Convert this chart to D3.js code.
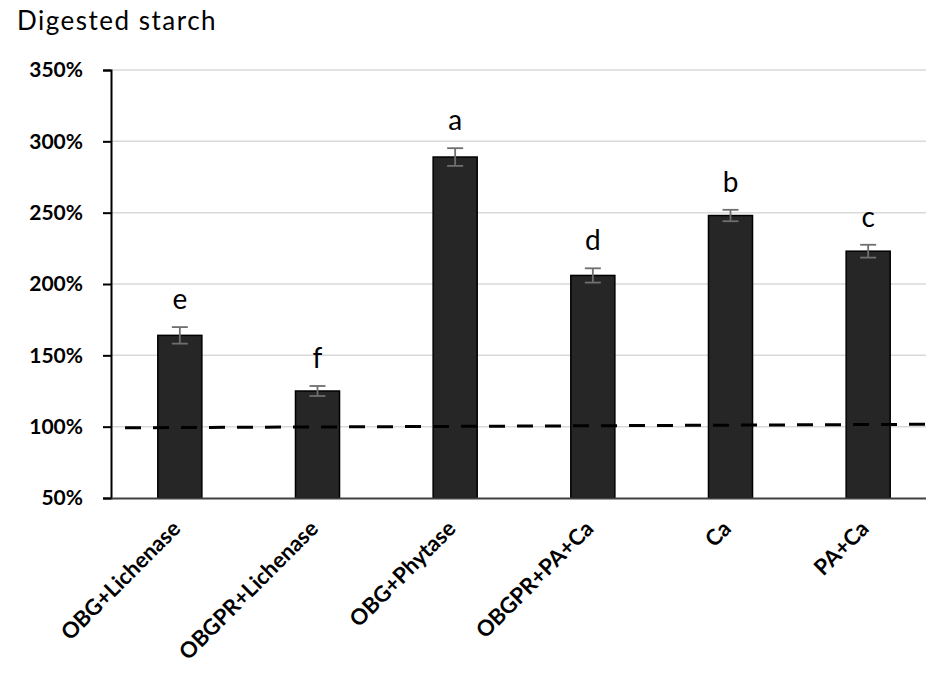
<!DOCTYPE html>
<html>
<head>
<meta charset="utf-8">
<script src="https://cdn.jsdelivr.net/npm/d3@7"></script>
<style>
  body { margin: 0; background: #fff; }
  text { font-family: Lato, "Open Sans", sans-serif; }
</style>
</head>
<body>
<svg id="chart" width="926" height="673"></svg>
<script>
// values
var categories = ["OBG+Lichenase", "OBGPR+Lichenase", "OBG+Phytase", "OBGPR+PA+Ca", "Ca", "PA+Ca"];
var means = [164, 125, 289, 206, 248, 223];
var errors = [5.8, 3.5, 6.2, 5, 4, 4.5];
var letters = ["e", "f", "a", "d", "b", "c"];
var yTicks = [50, 100, 150, 200, 250, 300, 350];
var refLine = [99.2, 101.7]; // dashed 100% reference, left and right ends

var width = 926, height = 673;
var svg = d3.select("#chart");

var x = d3.scaleBand()
  .domain(categories)
  .range([111, 937])
  .paddingInner(0.68)
  .paddingOuter(0.34);

var y = d3.scaleLinear()
  .domain([50, 350])
  .range([498, 70]);

// title
svg.append("text")
  .attr("x", 17).attr("y", 30)
  .attr("font-size", 26)
  .attr("letter-spacing", 1.5)
  .attr("fill", "#000")
  .text("Digested starch");

// gridlines
svg.append("g")
  .selectAll("line")
  .data(yTicks.slice(1))
  .join("line")
  .attr("x1", 111).attr("x2", width)
  .attr("y1", function (d) { return y(d); })
  .attr("y2", function (d) { return y(d); })
  .attr("stroke", "#d9d9d9")
  .attr("stroke-width", 1.5);

// y axis
var yAxis = svg.append("g")
  .attr("transform", "translate(111,0)")
  .call(d3.axisLeft(y).tickValues(yTicks).tickSize(8).tickPadding(20)
    .tickFormat(function (d) { return d + "%"; }));
yAxis.select(".domain").attr("stroke", "#000").attr("stroke-width", 2);
yAxis.selectAll(".tick line").attr("stroke", "#000").attr("stroke-width", 2);
yAxis.selectAll(".tick text")
  .attr("font-family", "Lato, sans-serif")
  .attr("font-size", 21)
  .attr("font-weight", "bold")
  .attr("fill", "#000");

// bars
svg.append("g")
  .selectAll("rect")
  .data(means)
  .join("rect")
  .attr("x", function (d, i) { return x(categories[i]); })
  .attr("width", x.bandwidth())
  .attr("y", function (d) { return y(d); })
  .attr("height", function (d) { return y(50) - y(d); })
  .attr("fill", "#262626")
  .attr("stroke", "#000")
  .attr("stroke-width", 1.5);

// error bars
var err = svg.append("g").attr("stroke", "#6f6f6f").attr("stroke-width", 1.8);
means.forEach(function (m, i) {
  var cx = x(categories[i]) + x.bandwidth() / 2;
  err.append("line").attr("x1", cx).attr("x2", cx)
    .attr("y1", y(m + errors[i])).attr("y2", y(m - errors[i]));
  [m + errors[i], m - errors[i]].forEach(function (v) {
    err.append("line").attr("x1", cx - 8).attr("x2", cx + 8)
      .attr("y1", y(v)).attr("y2", y(v));
  });
});

// x axis
var xAxis = svg.append("g")
  .attr("transform", "translate(0,498)")
  .call(d3.axisBottom(x).tickSize(0).tickFormat(""));
xAxis.select(".domain").attr("stroke", "#404040").attr("stroke-width", 2);

svg.append("g")
  .selectAll("text")
  .data(categories)
  .join("text")
  .attr("transform", function (d) {
    return "translate(" + (x(d) + x.bandwidth() / 2 + 2) + ",530) rotate(-45)";
  })
  .attr("text-anchor", "end")
  .attr("font-size", 22)
  .attr("font-weight", "bold")
  .attr("fill", "#000")
  .text(function (d) { return d; });

// significance letters
svg.append("g")
  .selectAll("text")
  .data(letters)
  .join("text")
  .attr("x", function (d, i) { return x(categories[i]) + x.bandwidth() / 2; })
  .attr("y", function (d, i) { return y(means[i] + errors[i]) - 18; })
  .attr("text-anchor", "middle")
  .attr("font-size", 28)
  .attr("fill", "#000")
  .text(function (d) { return d; });

// dashed reference line
var lx = d3.scaleLinear().domain([0, 1]).range([125, 937]);
svg.append("line")
  .attr("x1", lx(0)).attr("x2", lx(1))
  .attr("y1", y(refLine[0])).attr("y2", y(refLine[1]))
  .attr("stroke", "#000")
  .attr("stroke-width", 3)
  .attr("stroke-dasharray", "16,12");
</script>
</body>
</html>
